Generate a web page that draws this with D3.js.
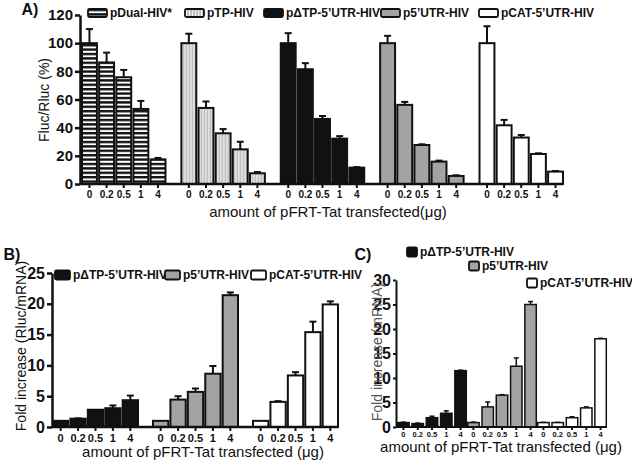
<!DOCTYPE html>
<html>
<head>
<meta charset="utf-8">
<script src="https://cdn.jsdelivr.net/npm/d3@7"></script>
<style>
  body { margin: 0; background: #fff; }
  svg { font-family: 'Liberation Sans', Arial, sans-serif; }
</style>
</head>
<body>
<div id="chart"></div>
<script>
const doses = ['0', '0.2', '0.5', '1', '4']

// panel A: Fluc/Rluc (%)
const aSeries = ['pDual-HIV*', 'pTP-HIV', 'pΔTP-5’UTR-HIV', 'p5’UTR-HIV', 'pCAT-5’UTR-HIV']
const aValues = [
  [100, 86.3, 75.8, 53.3, 17.5],
  [100, 54, 36, 24.6, 7.6],
  [100, 81.5, 46.2, 32.2, 11.6],
  [100, 56.2, 27.7, 15.9, 5.7],
  [100, 41.7, 33, 21.3, 8.8]
]
const aErrors = [
  [10, 7, 5.2, 5.7, 1],
  [6.7, 4.6, 3, 5.4, 0.9],
  [7.1, 4.3, 2.1, 1.8, 0.4],
  [5.2, 2.1, 0.5, 0.7, 0.5],
  [12, 3.8, 1.8, 0.5, 0.4]
]

// panel B: Fold increase (Rluc/mRNA)
const bSeries = ['pΔTP-5’UTR-HIV', 'p5’UTR-HIV', 'pCAT-5’UTR-HIV']
const bValues = [
  [1, 1.35, 2.8, 3.05, 4.35],
  [1, 4.45, 5.7, 8.65, 21.4],
  [1, 4.08, 8.37, 15.4, 19.9]
]
const bErrors = [
  [0, 0.05, 0, 0.45, 0.75],
  [0, 0.55, 0.55, 1.25, 0.45],
  [0, 0.12, 0.53, 1.7, 0.5]
]

// panel C: Fold increase (mRNA)
const cSeries = ['pΔTP-5’UTR-HIV', 'p5’UTR-HIV', 'pCAT-5’UTR-HIV']
const cValues = [
  [0.9, 0.7, 1.9, 2.8, 11.5],
  [0.9, 4.1, 6.5, 12.4, 25],
  [0.9, 0.9, 1.9, 3.9, 18]
]
const cErrors = [
  [0.1, 0.1, 0.3, 0.5, 0.1],
  [0.1, 1.0, 0.1, 1.7, 0.6],
  [0.05, 0.05, 0.2, 0.2, 0.1]
]

const svg = d3.select('#chart').append('svg')
  .attr('width', 632)
  .attr('height', 469)

const defs = svg.append('defs')
const hs = defs.append('pattern').attr('id', 'hstripe')
  .attr('patternUnits', 'userSpaceOnUse').attr('width', 6).attr('height', 4.4)
hs.append('rect').attr('width', 6).attr('height', 4.4).attr('fill', '#fff')
hs.append('rect').attr('width', 6).attr('height', 2.4).attr('fill', '#111')
const vs = defs.append('pattern').attr('id', 'vstripe')
  .attr('patternUnits', 'userSpaceOnUse').attr('width', 3).attr('height', 6)
vs.append('rect').attr('width', 3).attr('height', 6).attr('fill', '#bcbcbc')
vs.append('rect').attr('width', 1.2).attr('height', 6).attr('fill', '#f4f4f4')

const fillsA = ['url(#hstripe)', 'url(#vstripe)', '#111', '#a3a3a3', '#fff']
const fillsBC = ['#111', '#a3a3a3', '#fff']

function drawBars (g, series, values, errors, fills, x0, x1, y, opt) {
  series.forEach((s, gi) => {
    const grp = g.append('g').attr('transform', `translate(${x0(s)},0)`)
    const rows = doses.map((d, i) => ({ d, v: values[gi][i], e: errors[gi][i] }))
    const cx = d => x1(d.d) + x1.bandwidth() / 2
    grp.selectAll('line.err').data(rows.filter(r => r.e > 0)).join('line')
      .attr('class', 'err')
      .attr('x1', cx).attr('x2', cx)
      .attr('y1', d => y(d.v)).attr('y2', d => y(d.v + d.e))
      .attr('stroke', '#111').attr('stroke-width', opt.errW)
    grp.selectAll('line.cap').data(rows.filter(r => r.e > 0)).join('line')
      .attr('class', 'cap')
      .attr('x1', d => cx(d) - opt.capW / 2).attr('x2', d => cx(d) + opt.capW / 2)
      .attr('y1', d => y(d.v + d.e)).attr('y2', d => y(d.v + d.e))
      .attr('stroke', '#111').attr('stroke-width', opt.errW)
    grp.selectAll('rect').data(rows).join('rect')
      .attr('x', d => x1(d.d))
      .attr('y', d => y(d.v))
      .attr('width', x1.bandwidth())
      .attr('height', d => y(0) - y(d.v))
      .attr('fill', fills[gi])
      .attr('stroke', '#111')
      .attr('stroke-width', opt.barW)

    grp.append('g')
      .attr('transform', `translate(0,${y(0)})`)
      .call(d3.axisBottom(x1).tickSize(opt.xTick).tickSizeOuter(0).tickPadding(opt.xPad))
      .call(a => a.select('.domain').remove())
      .call(a => a.selectAll('line').attr('stroke', '#111').attr('stroke-width', 2))
      .call(a => a.selectAll('text').attr('fill', '#111')
        .attr('font-size', opt.xFont).attr('font-weight', 'bold')
        .attr('font-family', 'Liberation Sans, Arial, sans-serif'))
  })
}

function drawAxes (g, axisX, xEnd, y, ticks, opt) {
  g.append('line')
    .attr('x1', axisX).attr('x2', xEnd)
    .attr('y1', y(0)).attr('y2', y(0))
    .attr('stroke', '#111').attr('stroke-width', opt.axisW)
  g.append('g')
    .attr('transform', `translate(${axisX},0)`)
    .call(d3.axisLeft(y).tickValues(ticks).tickSize(opt.yTick).tickSizeOuter(0).tickPadding(2))
    .call(a => a.select('.domain').attr('stroke', '#111').attr('stroke-width', opt.axisW))
    .call(a => a.selectAll('line').attr('stroke', '#111').attr('stroke-width', opt.axisW))
    .call(a => a.selectAll('text').attr('fill', '#111')
      .attr('font-size', opt.yFont).attr('font-weight', 'bold')
      .attr('font-family', 'Liberation Sans, Arial, sans-serif'))
}

function drawLegend (g, series, fills, items) {
  series.forEach((s, i) => {
    const it = items[i]
    g.append('rect')
      .attr('x', it.x).attr('y', it.y - it.h / 2)
      .attr('width', it.w).attr('height', it.h)
      .attr('rx', 1.5)
      .attr('fill', fills[i]).attr('stroke', '#111').attr('stroke-width', 1.8)
    g.append('text')
      .attr('x', it.x + it.w + 3).attr('y', it.y)
      .attr('dy', '0.36em')
      .attr('font-size', it.font).attr('font-weight', 'bold')
      .attr('fill', '#111')
      .text(s)
  })
}

function label (g, txt, x, y, size, weight, rotate, fill) {
  g.append('text')
    .attr('transform', `translate(${x},${y})${rotate ? ' rotate(-90)' : ''}`)
    .attr('text-anchor', 'middle')
    .attr('dy', '0.36em')
    .attr('font-size', size)
    .attr('font-weight', weight)
    .attr('fill', fill || '#111')
    .text(txt)
}

// ---- Panel A
const gA = svg.append('g')
const yA = d3.scaleLinear().domain([0, 120]).range([184, 15])
const xA0 = d3.scaleBand().domain(aSeries).range([82, 563]).paddingInner(0.16).paddingOuter(0)
const xA1 = d3.scaleBand().domain(doses).range([0, xA0.bandwidth()]).paddingInner(0.13)
drawBars(gA, aSeries, aValues, aErrors, fillsA, xA0, xA1, yA,
  { errW: 2, capW: 7, barW: 2, xTick: 4, xPad: 3, xFont: 10 })
drawAxes(gA, 80, 563, yA, d3.range(0, 121, 20),
  { axisW: 2.5, yTick: 5, yFont: 15 })
drawLegend(gA, aSeries, fillsA, [
  { x: 88, y: 13, w: 19, h: 8, font: 12 },
  { x: 185, y: 13, w: 19, h: 8, font: 12 },
  { x: 264, y: 13, w: 19, h: 8, font: 12 },
  { x: 381, y: 13, w: 19, h: 8, font: 12 },
  { x: 479, y: 13, w: 19, h: 8, font: 12 }
])
label(gA, 'A)', 30, 9, 16, 'bold')
label(gA, 'Fluc/Rluc (%)', 44, 100, 14, 'normal', true)
label(gA, 'amount of pFRT-Tat transfected(μg)', 328, 212, 15, 'normal')

// ---- Panel B
const gB = svg.append('g')
const yB = d3.scaleLinear().domain([0, 25]).range([427, 273])
const xB0 = d3.scaleBand().domain(bSeries).range([53, 338]).paddingInner(0.15).paddingOuter(0)
const xB1 = d3.scaleBand().domain(doses).range([0, xB0.bandwidth()]).paddingInner(0.12)
drawBars(gB, bSeries, bValues, bErrors, fillsBC, xB0, xB1, yB,
  { errW: 2, capW: 7, barW: 2, xTick: 4, xPad: 3, xFont: 11 })
drawAxes(gB, 52, 338, yB, d3.range(0, 26, 5),
  { axisW: 2.5, yTick: 5, yFont: 16 })
drawLegend(gB, bSeries, fillsBC, [
  { x: 55, y: 275, w: 15, h: 9, font: 12 },
  { x: 165, y: 275, w: 15, h: 9, font: 12 },
  { x: 251, y: 275, w: 15, h: 9, font: 12 }
])
label(gB, 'B)', 12, 254, 16, 'bold')
label(gB, 'Fold increase (Rluc/mRNA)', 21, 346, 14, 'normal', true)
label(gB, 'amount of pFRT-Tat transfected (μg)', 203, 452, 15, 'normal')

// ---- Panel C
const gC = svg.append('g')
const yC = d3.scaleLinear().domain([0, 30]).range([427, 280])
const xC0 = d3.scaleBand().domain(cSeries).range([397, 607]).paddingInner(0).paddingOuter(0)
const xC1 = d3.scaleBand().domain(doses).range([0, xC0.bandwidth()]).paddingInner(0.2).paddingOuter(0.05)
drawBars(gC, cSeries, cValues, cErrors, fillsBC, xC0, xC1, yC,
  { errW: 1.5, capW: 5, barW: 1.5, xTick: 3, xPad: 2, xFont: 7.5 })
drawAxes(gC, 396, 607, yC, d3.range(0, 31, 5),
  { axisW: 2, yTick: 3, yFont: 16 })
drawLegend(gC, cSeries, fillsBC, [
  { x: 407, y: 252, w: 10, h: 9, font: 12 },
  { x: 469, y: 266, w: 10, h: 9, font: 12 },
  { x: 527, y: 283, w: 10, h: 9, font: 12 }
])
label(gC, 'C)', 363, 254, 16, 'bold')
label(gC, 'Fold increase (mRNA)', 377, 352, 14, 'normal', true, '#555')
label(gC, 'amount of pFRT-Tat transfected (μg)', 501, 447, 15, 'normal')
</script>
</body>
</html>
